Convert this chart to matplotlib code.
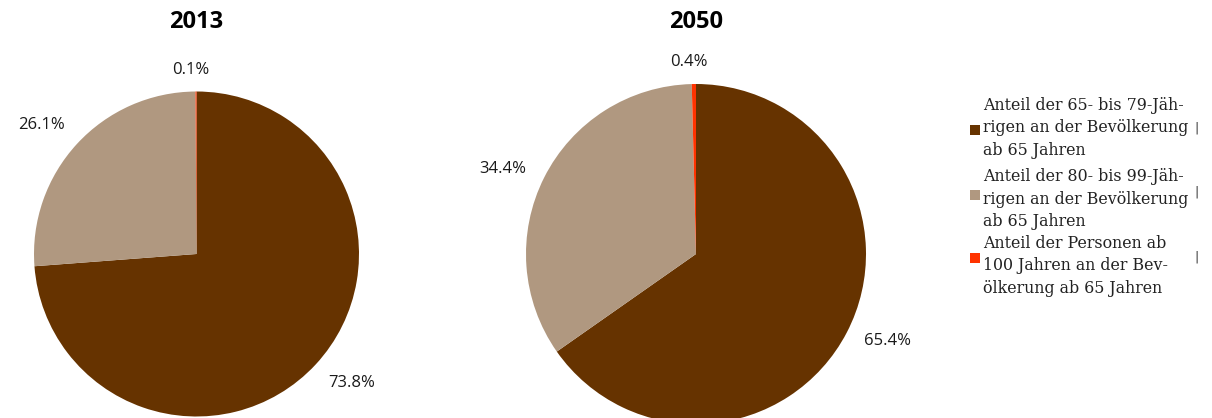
import numpy as np
import matplotlib
matplotlib.use("Agg")
from matplotlib import pyplot as plt
from matplotlib.patches import Rectangle

W, H = 1212, 418

years = ["2013", "2050"]
shares_2013 = [73.8, 26.1, 0.1]
shares_2050 = [65.4, 34.4, 0.4]
pct_labels_2013 = ["73.8%", "26.1%", "0.1%"]
pct_labels_2050 = ["65.4%", "34.4%", "0.4%"]
legend_labels = [
    "Anteil der 65- bis 79-Jäh-\nrigen an der Bevölkerung\nab 65 Jahren",
    "Anteil der 80- bis 99-Jäh-\nrigen an der Bevölkerung\nab 65 Jahren",
    "Anteil der Personen ab\n100 Jahren an der Bev-\nölkerung ab 65 Jahren",
]
colors = ["#663300", "#B09880", "#FF3300"]

# pie centre (px from left, px from top) and radius in px
pies = [
    (years[0], shares_2013, pct_labels_2013, 196.5, 254, 162.5),
    (years[1], shares_2050, pct_labels_2050, 696, 254, 170),
]

label_font = "Open Sans"

fig = plt.figure(figsize=(W / 100, H / 100), dpi=100)

for title, vals, labs, cx, cy, r in pies:
    side = 2.5 * r
    ax = fig.add_axes([(cx - side / 2) / W, 1 - (cy + side / 2) / H, side / W, side / H])
    wedges, _ = ax.pie(vals, colors=colors, startangle=90, counterclock=False,
                       wedgeprops=dict(linewidth=0))
    ax.set_xlim(-1.25, 1.25)
    ax.set_ylim(-1.25, 1.25)
    ax.set_aspect("equal")
    for w, lab, v in zip(wedges, labs, vals):
        if v < 1:
            mid = np.deg2rad((w.theta1 + w.theta2) / 2 + 1.5)
            d = 1.13
        else:
            mid = np.deg2rad((w.theta1 + w.theta2) / 2 + 3)
            d = 1.24
        ax.text(d * np.cos(mid), d * np.sin(mid), lab, ha="center", va="center",
                fontsize=12, family=label_font, color="#1a1a1a", clip_on=False)
    fig.text(cx / W, 1 - 22 / H, title, ha="center", va="center",
             fontsize=17, fontweight="bold", family=label_font)

# legend drawn by hand (text block centre y, marker centre y) in px from top
legend_rows = [(128, 130), (199, 195), (266, 258)]
for lab, col, (ty, my) in zip(legend_labels, colors, legend_rows):
    fig.text(983 / W, 1 - ty / H, lab, ha="left", va="center",
             fontsize=11.4, family="DejaVu Serif", color="#222222",
             linespacing=1.45)
    fig.add_artist(Rectangle((970 / W, 1 - (my + 5) / H), 10 / W, 10 / H,
                             transform=fig.transFigure, color=col, lw=0))

for y in [128, 192, 257]:
    fig.text(1197 / W, 1 - y / H, "|", ha="center", va="center",
             fontsize=9, color="#333333")

fig.savefig("out.png", dpi=100)
